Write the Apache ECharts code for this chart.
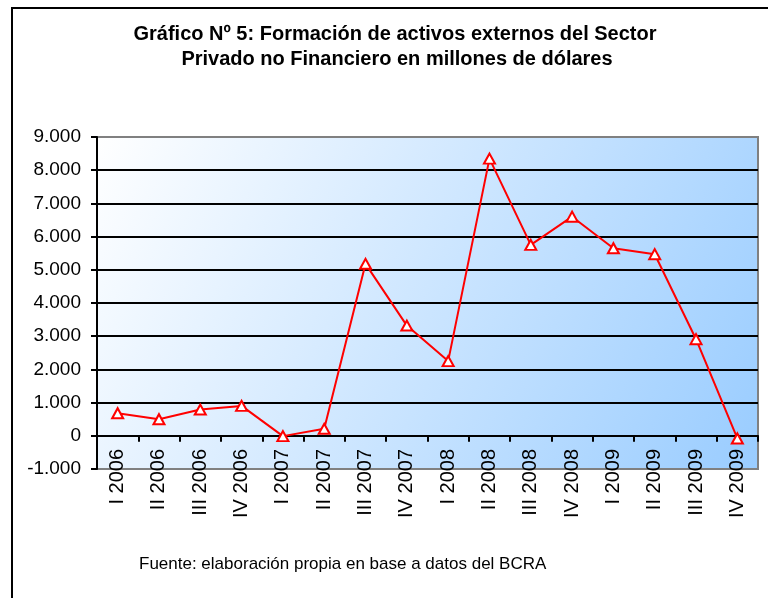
<!DOCTYPE html>
<html>
<head>
<meta charset="utf-8">
<script src="https://cdn.jsdelivr.net/npm/echarts@6/dist/echarts.min.js"></script>
<style>
  html, body { margin: 0; padding: 0; background: #fff; }
  #chart { width: 768px; height: 598px; }
</style>
</head>
<body>
<div id="chart"></div>
<script>
// Quarters shown on the category axis
const quarters = [
    'I 2006', 'II 2006', 'III 2006', 'IV 2006',
    'I 2007', 'II 2007', 'III 2007', 'IV 2007',
    'I 2008', 'II 2008', 'III 2008', 'IV 2008',
    'I 2009', 'II 2009', 'III 2009', 'IV 2009'
];

// Formación de activos externos, millones de USD
const activos = [
    680, 500, 790, 900,
    -10, 210, 5180, 3320,
    2250, 8350, 5750, 6600,
    5650, 5470, 2910, -80
];

const titleLines = [
    'Gráfico Nº 5: Formación de activos externos del Sector',
    'Privado no Financiero en millones de dólares'
];
const sourceNote = 'Fuente: elaboración propia en base a datos del BCRA';

(function() {
    const chartDom = document.getElementById('chart');
    const myChart = echarts.init(chartDom, null, { renderer: 'canvas' });
    const font = "'Liberation Sans', Arial, sans-serif";

    // thousands with a dot, like the spanish original
    const fmt = v => {
        const s = Math.abs(v).toString().replace(/\B(?=(\d{3})+(?!\d))/g, '.');
        return (v < 0 ? '-' : '') + s;
    };

    // top (9.000) and bottom (-1.000) lines are the grey plot border
    const splitColors = ['#808080'];
    for (let i = 0; i < 9; i++) splitColors.push('#000000');
    splitColors.push('#808080');

    const option = {
        backgroundColor: '#ffffff',
        animation: false,
        graphic: [
            {
                type: 'rect',
                shape: { x: 12, y: 8, width: 800, height: 700 },
                style: { fill: 'none', stroke: '#000', lineWidth: 2 },
                z: 0
            },
            {
                type: 'text', x: 395, y: 34,
                style: {
                    text: titleLines[0], font: 'bold 20px ' + font, fill: '#000',
                    textAlign: 'center', textVerticalAlign: 'middle'
                }
            },
            {
                type: 'text', x: 397, y: 59,
                style: {
                    text: titleLines[1], font: 'bold 20px ' + font, fill: '#000',
                    textAlign: 'center', textVerticalAlign: 'middle'
                }
            },
            {
                type: 'text', x: 139, y: 564,
                style: {
                    text: sourceNote, font: '17px ' + font, fill: '#000',
                    textAlign: 'left', textVerticalAlign: 'middle'
                }
            }
        ],
        grid: {
            left: 97,
            right: 10,
            top: 137,
            bottom: 129,
            show: true,
            backgroundColor: new echarts.graphic.LinearGradient(0, 0, 1, 1, [
                { offset: 0, color: '#ffffff' },
                { offset: 1, color: '#99ccff' }
            ]),
            borderColor: '#808080',
            borderWidth: 2
        },
        xAxis: {
            type: 'category',
            data: quarters,
            boundaryGap: true,
            axisLine: { onZero: true, lineStyle: { color: '#000', width: 2 } },
            axisTick: { show: true, interval: 0, length: 6, lineStyle: { color: '#000', width: 2 } },
            axisLabel: {
                interval: 0,
                rotate: 90,
                margin: -20,   // labels hang from the zero line, not the grid bottom
                color: '#000',
                fontFamily: font,
                fontSize: 20,
                padding: [0, 0, 8, 0]
            },
            splitLine: { show: false }
        },
        yAxis: {
            type: 'value',
            min: -1000,
            max: 9000,
            interval: 1000,
            axisLine: { show: true, lineStyle: { color: '#000', width: 2 } },
            axisTick: { show: true, length: 6, lineStyle: { color: '#000', width: 2 } },
            axisLabel: {
                color: '#000',
                fontFamily: font,
                fontSize: 19,
                margin: 16,
                formatter: fmt
            },
            splitLine: { show: true, lineStyle: { color: splitColors, width: 2 } }
        },
        series: [
            {
                name: 'Activos externos',
                type: 'line',
                data: activos,
                symbol: 'triangle',
                symbolSize: [11, 10],
                showAllSymbol: true,
                lineStyle: { color: '#ff0000', width: 2 },
                itemStyle: { color: '#ffffff', borderColor: '#ff0000', borderWidth: 2 },
                z: 5
            }
        ]
    };

    myChart.setOption(option);
    window.addEventListener('resize', () => myChart.resize());
})();
</script>
</body>
</html>
